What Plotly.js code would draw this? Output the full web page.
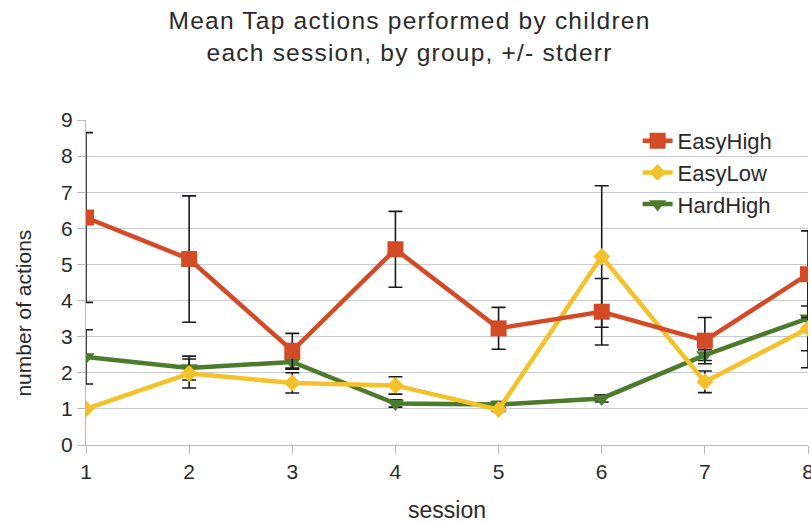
<!DOCTYPE html>
<html>
<head>
<meta charset="utf-8">
<script src="https://cdn.plot.ly/plotly-3.0.1.min.js"></script>
<style>
html,body{margin:0;padding:0;background:#fff;}
#chart{width:811px;height:523px;}
#chart .gtitle { letter-spacing: 0.05em; }
</style>
</head>
<body>
<div id="chart"></div>
<script>
var sessions = [1, 2, 3, 4, 5, 6, 7, 8];
var easyHigh = [6.3, 5.15, 2.61, 5.42, 3.23, 3.69, 2.89, 4.73];
var easyHighErr = [2.35, 1.75, 0.48, 1.05, 0.58, 0.92, 0.64, 1.2];
var easyLow = [1.0, 1.98, 1.72, 1.65, 0.98, 5.22, 1.75, 3.23];
var easyLowErr = [0.0, 0.4, 0.28, 0.24, 0.05, 1.96, 0.3, 0.62];
var hardHigh = [2.44, 2.13, 2.3, 1.15, 1.12, 1.29, 2.49, 3.51];
var hardHighErr = [0.75, 0.33, 0.2, 0.1, 0.08, 0.1, 0.15, 1.37];
var seriesNames = ['EasyHigh', 'EasyLow', 'HardHigh'];

function errBar(arr) {
  return {type: 'data', array: arr, visible: true, color: '#1a1a1a', thickness: 1.6, width: 7};
}

var traces = [
  {
    x: sessions, y: hardHigh, name: seriesNames[2], type: 'scatter', mode: 'lines+markers',
    line: {color: '#4b7b2b', width: 4.5},
    marker: {symbol: 'triangle-down', size: 15, color: '#4b7b2b'},
    error_y: errBar(hardHighErr)
  },
  {
    x: sessions, y: easyLow, name: seriesNames[1], type: 'scatter', mode: 'lines+markers',
    line: {color: '#f3c22b', width: 4.5},
    marker: {symbol: 'diamond', size: 13, color: '#f3c22b'},
    error_y: errBar(easyLowErr)
  },
  {
    x: sessions, y: easyHigh, name: seriesNames[0], type: 'scatter', mode: 'lines+markers',
    line: {color: '#d24b26', width: 4.5},
    marker: {symbol: 'square', size: 16, color: '#d24b26'},
    error_y: errBar(easyHighErr)
  }
];

var layout = {
  width: 811, height: 523,
  margin: {l: 86, r: 3, t: 120, b: 78},
  paper_bgcolor: '#ffffff', plot_bgcolor: '#ffffff',
  font: {family: 'Liberation Sans, Arial, sans-serif', color: '#2a2a2a', size: 20},
  title: {
    text: 'Mean Tap actions performed by children<br>each session, by group, +/- stderr',
    font: {family: 'Liberation Sans, Arial, sans-serif', size: 24.5, color: '#2a2a2a'},
    x: 0.505, xanchor: 'center', yref: 'container', y: 0.944, yanchor: 'middle'
  },
  xaxis: {
    range: [1, 8], tickvals: sessions, ticktext: sessions.map(String),
    showgrid: false, zeroline: false, showline: true, linecolor: '#b8b8b8', linewidth: 1,
    ticks: 'outside', ticklen: 8, tickcolor: '#b8b8b8',
    ticklabeloverflow: 'allow',
    tickfont: {size: 21, color: '#2a2a2a'},
    title: {text: 'session', font: {size: 23, color: '#2a2a2a'}, standoff: 21}
  },
  yaxis: {
    range: [0, 9], dtick: 1, tick0: 0,
    showgrid: true, gridcolor: '#c9c9d0', gridwidth: 1, zeroline: false,
    showline: true, linecolor: '#b8b8b8', linewidth: 1,
    ticks: 'outside', ticklen: 8, tickcolor: '#b8b8b8',
    tickfont: {size: 21, color: '#2a2a2a'}
  },
  annotations: [{
    text: 'number of actions', textangle: -90,
    xref: 'paper', yref: 'paper', x: -0.087, y: 0.405,
    xanchor: 'center', yanchor: 'middle', showarrow: false,
    font: {family: 'Liberation Sans, Arial, sans-serif', size: 21, color: '#2a2a2a'}
  }],
  legend: {
    x: 0.764, xanchor: 'left', y: 1.0, yanchor: 'top',
    traceorder: 'reversed',
    bgcolor: 'rgba(255,255,255,0)', borderwidth: 0,
    font: {size: 22, color: '#2a2a2a'},
    tracegroupgap: 0
  },
  showlegend: true
};

Plotly.newPlot('chart', traces, layout, {displayModeBar: false, staticPlot: true});
</script>
</body>
</html>
